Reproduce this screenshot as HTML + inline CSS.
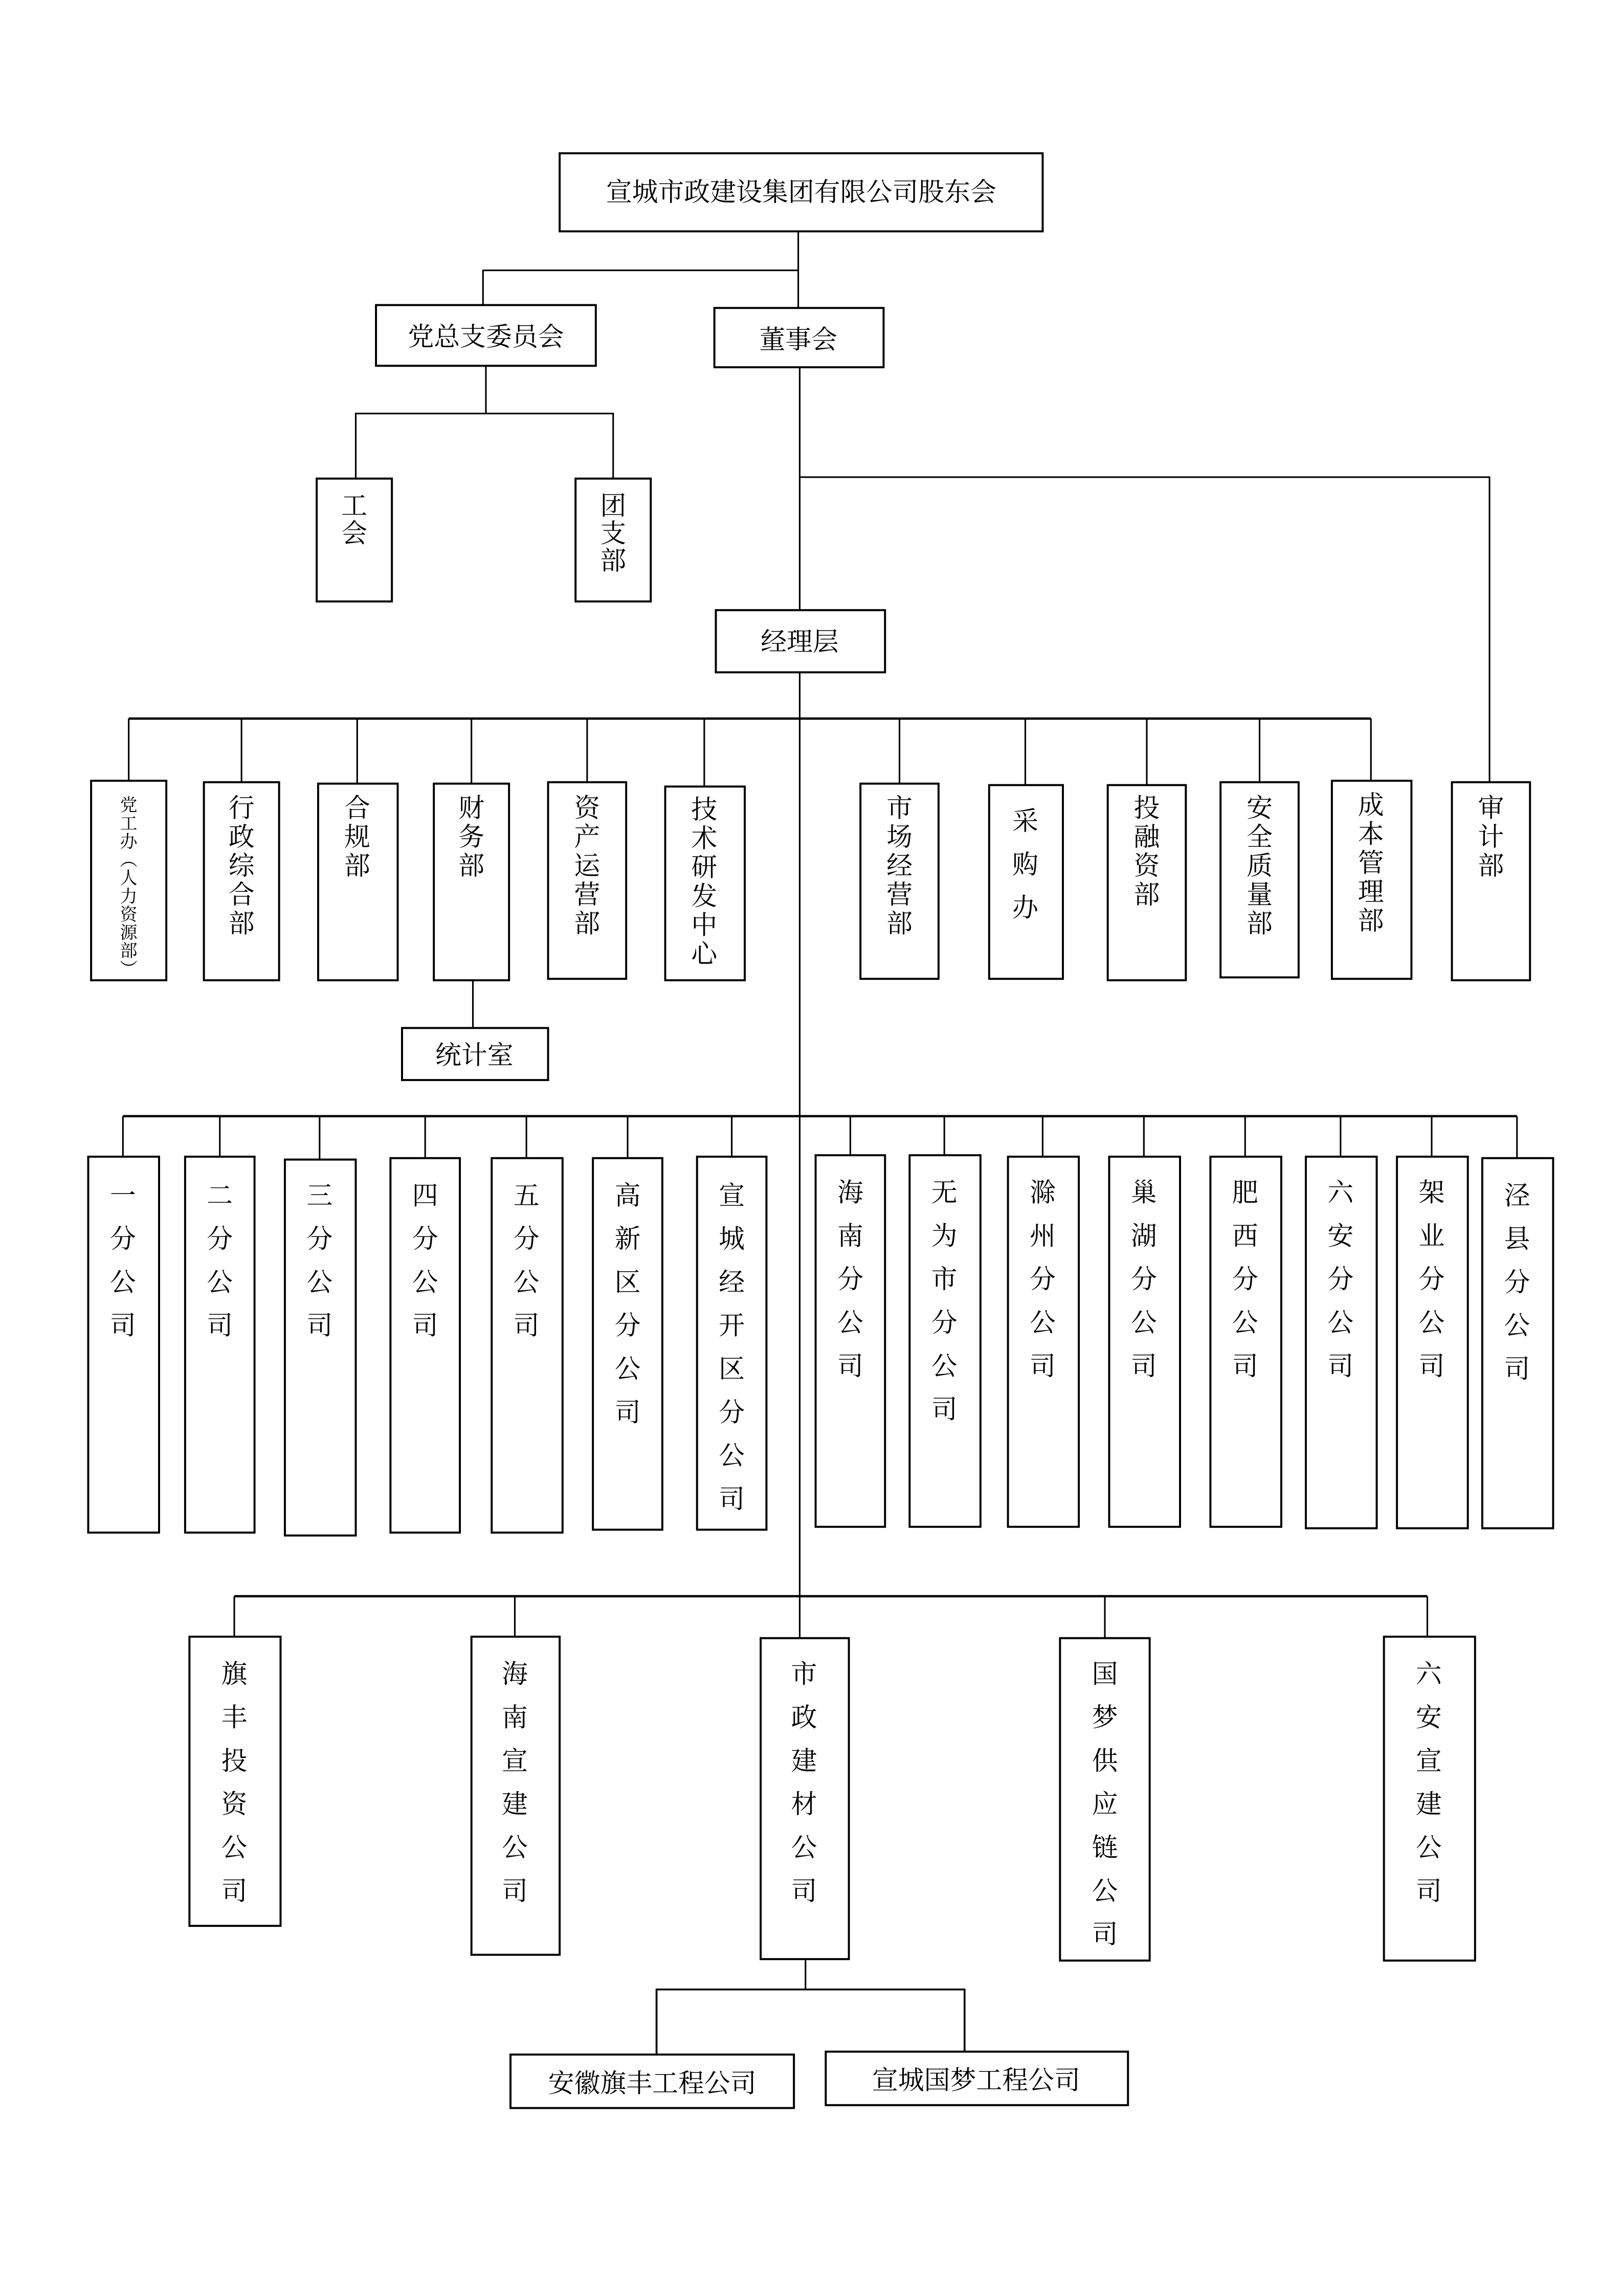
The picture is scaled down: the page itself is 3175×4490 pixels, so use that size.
<!DOCTYPE html>
<html><head><meta charset="utf-8"><style>
html,body{margin:0;padding:0;background:#fff;}
svg{display:block;}
text{font-family:"Liberation Serif","Noto Serif CJK SC",serif;fill:#000;text-anchor:middle;}
</style></head><body>
<svg width="3175" height="4490" viewBox="0 0 1123 1588" preserveAspectRatio="none" xmlns="http://www.w3.org/2000/svg">
<g fill="none" stroke="#000" stroke-width="1.1">
<polyline points="552,160 552,213"/>
<polyline points="334,211 334,187 552,187"/>
<polyline points="336,253 336,286"/>
<polyline points="246,331 246,286 424,286 424,331"/>
<polyline points="553,254 553,1133"/>
<polyline points="553,330 1030,330 1030,541"/>
<line x1="89" y1="497" x2="948" y2="497" stroke-width="1.6"/>
<line x1="89" y1="497" x2="89" y2="540"/>
<line x1="167" y1="497" x2="167" y2="541"/>
<line x1="247" y1="497" x2="247" y2="542"/>
<line x1="326" y1="497" x2="326" y2="542"/>
<line x1="406" y1="497" x2="406" y2="541"/>
<line x1="487" y1="497" x2="487" y2="544"/>
<line x1="622" y1="497" x2="622" y2="542"/>
<line x1="709" y1="497" x2="709" y2="543"/>
<line x1="793" y1="497" x2="793" y2="543"/>
<line x1="871" y1="497" x2="871" y2="541"/>
<line x1="948" y1="497" x2="948" y2="540"/>
<line x1="327" y1="678" x2="327" y2="711"/>
<line x1="85" y1="772" x2="1049" y2="772" stroke-width="1.6"/>
<line x1="85" y1="772" x2="85" y2="800"/>
<line x1="152" y1="772" x2="152" y2="800"/>
<line x1="221" y1="772" x2="221" y2="802"/>
<line x1="294" y1="772" x2="294" y2="801"/>
<line x1="364" y1="772" x2="364" y2="801"/>
<line x1="434" y1="772" x2="434" y2="801"/>
<line x1="506" y1="772" x2="506" y2="800"/>
<line x1="588" y1="772" x2="588" y2="799"/>
<line x1="653" y1="772" x2="653" y2="799"/>
<line x1="721" y1="772" x2="721" y2="800"/>
<line x1="791" y1="772" x2="791" y2="800"/>
<line x1="861" y1="772" x2="861" y2="800"/>
<line x1="927" y1="772" x2="927" y2="800"/>
<line x1="990" y1="772" x2="990" y2="800"/>
<line x1="1049" y1="772" x2="1049" y2="801"/>
<line x1="162" y1="1104" x2="987" y2="1104" stroke-width="1.6"/>
<line x1="162" y1="1104" x2="162" y2="1132"/>
<line x1="356" y1="1104" x2="356" y2="1132"/>
<line x1="764" y1="1104" x2="764" y2="1133"/>
<line x1="987" y1="1104" x2="987" y2="1132"/>
<line x1="557" y1="1355" x2="557" y2="1376"/>
<polyline points="454,1421 454,1376 667,1376 667,1419" stroke-width="1.3"/>
</g>
<g fill="#fff" stroke="#000" stroke-width="1.4">
<rect x="387" y="106" width="334" height="54"/>
<rect x="260" y="211" width="152" height="42"/>
<rect x="494" y="213" width="117" height="41"/>
<rect x="219" y="331" width="52" height="85"/>
<rect x="398" y="331" width="52" height="85"/>
<rect x="495" y="422" width="117" height="43"/>
<rect x="63" y="540" width="52" height="138"/>
<rect x="141" y="541" width="52" height="137"/>
<rect x="220" y="542" width="55" height="136"/>
<rect x="300" y="542" width="52" height="136"/>
<rect x="379" y="541" width="54" height="136"/>
<rect x="460" y="544" width="55" height="134"/>
<rect x="595" y="542" width="54" height="135"/>
<rect x="684" y="543" width="51" height="134"/>
<rect x="766" y="543" width="54" height="135"/>
<rect x="844" y="541" width="54" height="135"/>
<rect x="921" y="540" width="55" height="137"/>
<rect x="1004" y="541" width="54" height="137"/>
<rect x="278" y="711" width="101" height="36"/>
<rect x="61" y="800" width="49" height="260"/>
<rect x="128" y="800" width="48" height="260"/>
<rect x="197" y="802" width="49" height="260"/>
<rect x="270" y="801" width="48" height="259"/>
<rect x="340" y="801" width="49" height="259"/>
<rect x="410" y="801" width="48" height="257"/>
<rect x="482" y="800" width="48" height="258"/>
<rect x="564" y="799" width="48" height="257"/>
<rect x="629" y="799" width="49" height="257"/>
<rect x="697" y="800" width="49" height="256"/>
<rect x="767" y="800" width="49" height="256"/>
<rect x="837" y="800" width="49" height="256"/>
<rect x="903" y="800" width="49" height="257"/>
<rect x="966" y="800" width="49" height="257"/>
<rect x="1025" y="801" width="49" height="256"/>
<rect x="131" y="1132" width="63" height="200"/>
<rect x="326" y="1132" width="61" height="220"/>
<rect x="526" y="1133" width="61" height="222"/>
<rect x="733" y="1133" width="62" height="223"/>
<rect x="957" y="1132" width="63" height="224"/>
<rect x="353" y="1421" width="196" height="37"/>
<rect x="571" y="1419" width="209" height="37"/>
</g>
<g font-size="18">
<text x="554" y="139">宣城市政建设集团有限公司股东会</text>
<text x="336" y="239">党总支委员会</text>
<text x="552" y="241">董事会</text>
<text x="553" y="450">经理层</text>
<text x="328" y="736">统计室</text>
<text x="451" y="1447">安徽旗丰工程公司</text>
<text x="675" y="1445">宣城国梦工程公司</text>
<text x="245" y="356">工<tspan x="245" dy="19">会</tspan></text>
<text x="424" y="356">团<tspan x="424" dy="19">支</tspan><tspan x="424" dy="19">部</tspan></text>
<text font-size="12" x="89" y="561">党<tspan x="89" dy="12.6">工</tspan><tspan x="89" dy="12.6">办</tspan><tspan x="89" dy="12.6">︵</tspan><tspan x="89" dy="12.6">人</tspan><tspan x="89" dy="12.6">力</tspan><tspan x="89" dy="12.6">资</tspan><tspan x="89" dy="12.6">源</tspan><tspan x="89" dy="12.6">部</tspan><tspan x="89" dy="12.6">︶</tspan></text>
<text x="167" y="565">行<tspan x="167" dy="20">政</tspan><tspan x="167" dy="20">综</tspan><tspan x="167" dy="20">合</tspan><tspan x="167" dy="20">部</tspan></text>
<text x="247" y="565">合<tspan x="247" dy="20">规</tspan><tspan x="247" dy="20">部</tspan></text>
<text x="326" y="565">财<tspan x="326" dy="20">务</tspan><tspan x="326" dy="20">部</tspan></text>
<text x="406" y="565">资<tspan x="406" dy="20">产</tspan><tspan x="406" dy="20">运</tspan><tspan x="406" dy="20">营</tspan><tspan x="406" dy="20">部</tspan></text>
<text x="487" y="566">技<tspan x="487" dy="20">术</tspan><tspan x="487" dy="20">研</tspan><tspan x="487" dy="20">发</tspan><tspan x="487" dy="20">中</tspan><tspan x="487" dy="20">心</tspan></text>
<text x="622" y="565">市<tspan x="622" dy="20">场</tspan><tspan x="622" dy="20">经</tspan><tspan x="622" dy="20">营</tspan><tspan x="622" dy="20">部</tspan></text>
<text x="709" y="574">采<tspan x="709" dy="30">购</tspan><tspan x="709" dy="30">办</tspan></text>
<text x="793" y="565">投<tspan x="793" dy="20">融</tspan><tspan x="793" dy="20">资</tspan><tspan x="793" dy="20">部</tspan></text>
<text x="871" y="565">安<tspan x="871" dy="20">全</tspan><tspan x="871" dy="20">质</tspan><tspan x="871" dy="20">量</tspan><tspan x="871" dy="20">部</tspan></text>
<text x="948" y="563">成<tspan x="948" dy="20">本</tspan><tspan x="948" dy="20">管</tspan><tspan x="948" dy="20">理</tspan><tspan x="948" dy="20">部</tspan></text>
<text x="1031" y="565">审<tspan x="1031" dy="20">计</tspan><tspan x="1031" dy="20">部</tspan></text>
<text x="85" y="833">一<tspan x="85" dy="30">分</tspan><tspan x="85" dy="30">公</tspan><tspan x="85" dy="30">司</tspan></text>
<text x="152" y="833">二<tspan x="152" dy="30">分</tspan><tspan x="152" dy="30">公</tspan><tspan x="152" dy="30">司</tspan></text>
<text x="221" y="833">三<tspan x="221" dy="30">分</tspan><tspan x="221" dy="30">公</tspan><tspan x="221" dy="30">司</tspan></text>
<text x="294" y="833">四<tspan x="294" dy="30">分</tspan><tspan x="294" dy="30">公</tspan><tspan x="294" dy="30">司</tspan></text>
<text x="364" y="833">五<tspan x="364" dy="30">分</tspan><tspan x="364" dy="30">公</tspan><tspan x="364" dy="30">司</tspan></text>
<text x="434" y="833">高<tspan x="434" dy="30">新</tspan><tspan x="434" dy="30">区</tspan><tspan x="434" dy="30">分</tspan><tspan x="434" dy="30">公</tspan><tspan x="434" dy="30">司</tspan></text>
<text x="506" y="833">宣<tspan x="506" dy="30">城</tspan><tspan x="506" dy="30">经</tspan><tspan x="506" dy="30">开</tspan><tspan x="506" dy="30">区</tspan><tspan x="506" dy="30">分</tspan><tspan x="506" dy="30">公</tspan><tspan x="506" dy="30">司</tspan></text>
<text x="588" y="831">海<tspan x="588" dy="30">南</tspan><tspan x="588" dy="30">分</tspan><tspan x="588" dy="30">公</tspan><tspan x="588" dy="30">司</tspan></text>
<text x="653" y="831">无<tspan x="653" dy="30">为</tspan><tspan x="653" dy="30">市</tspan><tspan x="653" dy="30">分</tspan><tspan x="653" dy="30">公</tspan><tspan x="653" dy="30">司</tspan></text>
<text x="721" y="831">滁<tspan x="721" dy="30">州</tspan><tspan x="721" dy="30">分</tspan><tspan x="721" dy="30">公</tspan><tspan x="721" dy="30">司</tspan></text>
<text x="791" y="831">巢<tspan x="791" dy="30">湖</tspan><tspan x="791" dy="30">分</tspan><tspan x="791" dy="30">公</tspan><tspan x="791" dy="30">司</tspan></text>
<text x="861" y="831">肥<tspan x="861" dy="30">西</tspan><tspan x="861" dy="30">分</tspan><tspan x="861" dy="30">公</tspan><tspan x="861" dy="30">司</tspan></text>
<text x="927" y="831">六<tspan x="927" dy="30">安</tspan><tspan x="927" dy="30">分</tspan><tspan x="927" dy="30">公</tspan><tspan x="927" dy="30">司</tspan></text>
<text x="990" y="831">架<tspan x="990" dy="30">业</tspan><tspan x="990" dy="30">分</tspan><tspan x="990" dy="30">公</tspan><tspan x="990" dy="30">司</tspan></text>
<text x="1049" y="833">泾<tspan x="1049" dy="30">县</tspan><tspan x="1049" dy="30">分</tspan><tspan x="1049" dy="30">公</tspan><tspan x="1049" dy="30">司</tspan></text>
<text x="162" y="1164">旗<tspan x="162" dy="30">丰</tspan><tspan x="162" dy="30">投</tspan><tspan x="162" dy="30">资</tspan><tspan x="162" dy="30">公</tspan><tspan x="162" dy="30">司</tspan></text>
<text x="356" y="1164">海<tspan x="356" dy="30">南</tspan><tspan x="356" dy="30">宣</tspan><tspan x="356" dy="30">建</tspan><tspan x="356" dy="30">公</tspan><tspan x="356" dy="30">司</tspan></text>
<text x="556" y="1164">市<tspan x="556" dy="30">政</tspan><tspan x="556" dy="30">建</tspan><tspan x="556" dy="30">材</tspan><tspan x="556" dy="30">公</tspan><tspan x="556" dy="30">司</tspan></text>
<text x="764" y="1164">国<tspan x="764" dy="30">梦</tspan><tspan x="764" dy="30">供</tspan><tspan x="764" dy="30">应</tspan><tspan x="764" dy="30">链</tspan><tspan x="764" dy="30">公</tspan><tspan x="764" dy="30">司</tspan></text>
<text x="988" y="1164">六<tspan x="988" dy="30">安</tspan><tspan x="988" dy="30">宣</tspan><tspan x="988" dy="30">建</tspan><tspan x="988" dy="30">公</tspan><tspan x="988" dy="30">司</tspan></text>
</g>
</svg>
</body></html>
